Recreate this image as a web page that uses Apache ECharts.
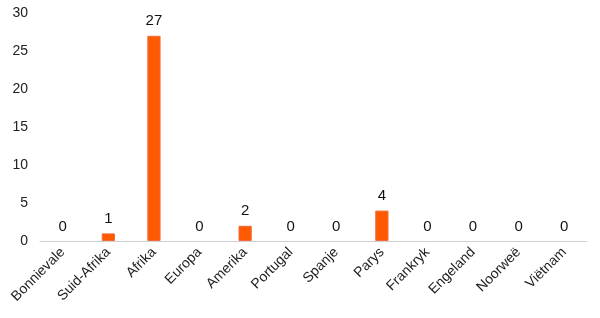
<!DOCTYPE html>
<html><head><meta charset="utf-8">
<script src="https://cdn.jsdelivr.net/npm/echarts@6/dist/echarts.min.js"></script>
<style>html,body{margin:0;padding:0;background:#fff}#c{width:600px;height:318px}</style>
</head><body><div id="c"></div>
<script>
var categories = ['Bonnievale','Suid-Afrika','Afrika','Europa','Amerika','Portugal','Spanje','Parys','Frankryk','Engeland','Noorweë','Viëtnam'];
var values = [0,1,27,0,2,0,0,4,0,0,0,0];
var yTicks = {min:0, max:30, interval:5};
var chart = echarts.init(document.getElementById('c'));
chart.setOption({
  animation:false,
  grid:{left:40, right:13, top:13, bottom:77},
  xAxis:{type:'category', data:categories,
    axisLine:{lineStyle:{color:'#d0d0d0', width:1}},
    axisTick:{show:false},
    axisLabel:{rotate:45, interval:0, color:'#222', fontSize:14, fontFamily:'Liberation Sans, Arial', margin:9}},
  yAxis:{type:'value', min:yTicks.min, max:yTicks.max, interval:yTicks.interval,
    splitLine:{show:false}, axisLine:{show:false}, axisTick:{show:false},
    axisLabel:{color:'#222', fontSize:14, fontFamily:'Liberation Sans, Arial', margin:12}},
  series:[{type:'bar', barWidth:'29%',
    data: values.map(function(v){ return {value:v, itemStyle: v ? {borderColor:'#F26A3A', borderWidth:1} : {borderWidth:0}}; }),
    itemStyle:{color:'#FF5A00'},
    label:{show:true, position:'top', distance:7, color:'#111', fontSize:15, fontFamily:'Liberation Sans, Arial'}}]
});
</script></body></html>
